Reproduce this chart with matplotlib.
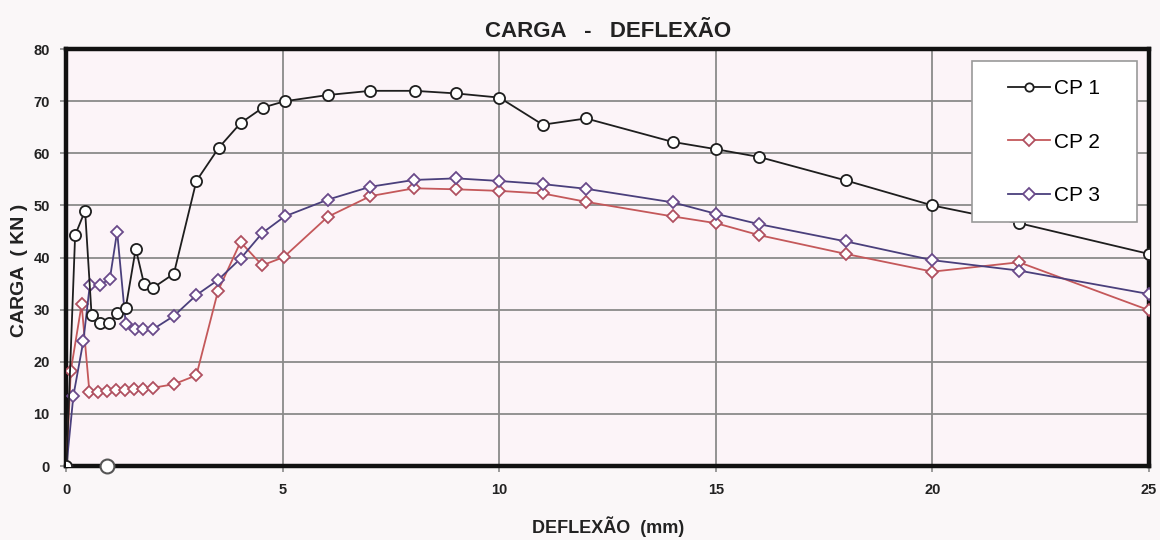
import matplotlib
matplotlib.use("Agg")
import matplotlib.pyplot as plt
from matplotlib.patches import Rectangle

plt.rcParams['font.family'] = ['Liberation Sans', 'DejaVu Sans']

# CP 1
x1 = [0, 0.2, 0.43, 0.58, 0.77, 0.99, 1.17, 1.37, 1.6, 1.79, 2.0, 2.48, 3.0, 3.52,
      4.02, 4.54, 5.04, 6.04, 7.02, 8.04, 9.0, 10.0, 11.0, 12.0, 14.0, 15.0, 16.0,
      18.0, 20.0, 22.0, 25.0]
y1 = [0, 44.3, 49.0, 29.0, 27.5, 27.5, 29.3, 30.4, 41.7, 35.0, 34.2, 36.9, 54.7, 61.1,
      65.8, 68.8, 70.0, 71.2, 72.0, 72.0, 71.5, 70.7, 65.5, 66.7, 62.2, 60.8, 59.3,
      54.8, 50.0, 46.6, 40.7]

# CP 2
x2 = [0, 0.1, 0.35, 0.53, 0.73, 0.93, 1.14, 1.35, 1.56, 1.77, 1.99, 2.48, 3.0, 3.5,
      4.02, 4.52, 5.02, 6.03, 7.02, 8.03, 9.0, 10.0, 11.0, 12.0, 14.0, 15.0, 16.0,
      18.0, 20.0, 22.0, 25.0]
y2 = [0, 18.3, 31.0, 14.2, 14.3, 14.4, 14.5, 14.6, 14.7, 14.8, 15.0, 15.7, 17.4, 33.6,
      43.0, 38.5, 40.1, 47.8, 51.8, 53.3, 53.1, 52.8, 52.3, 50.7, 47.9, 46.6, 44.3,
      40.7, 37.3, 39.1, 29.9]

# CP 3
x3 = [0, 0.16, 0.39, 0.54, 0.77, 1.0, 1.17, 1.37, 1.58, 1.77, 1.99, 2.48, 3.0, 3.5,
      4.02, 4.52, 5.04, 6.03, 7.02, 8.03, 9.0, 10.0, 11.0, 12.0, 14.0, 15.0, 16.0,
      18.0, 20.0, 22.0, 25.0]
y3 = [0, 13.5, 24.0, 34.8, 34.8, 35.8, 45.0, 27.2, 26.2, 26.2, 26.2, 28.8, 32.8, 35.7,
      39.8, 44.7, 47.9, 51.1, 53.6, 54.9, 55.2, 54.7, 54.1, 53.2, 50.6, 48.4, 46.4,
      43.1, 39.5, 37.5, 33.0]

# stray point on the x axis
xs = [0.94]
ys = [0]

fig = plt.figure(figsize=(11.6, 5.4), dpi=100, facecolor='#faf7f8')
ax = fig.add_axes([0.0573, 0.137, 0.9332, 0.772], facecolor='#fcf4f8')

ax.plot(x1, y1, color='#1e1e1e', lw=1.3, marker='o', ms=8, mfc='white',
        mec='#1e1e1e', mew=1.3, label='CP 1', zorder=5)
ax.plot(x2, y2, color='#c4585a', lw=1.3, marker='D', ms=6, mfc='white',
        mec='#b05060', mew=1.3, label='CP 2', zorder=3)
ax.plot(x3, y3, color='#4a3f7c', lw=1.3, marker='D', ms=6, mfc='white',
        mec='#6a4a8a', mew=1.3, label='CP 3', zorder=4)
ax.plot(xs, ys, ls='none', marker='o', ms=10, mfc='white', mec='#555555',
        mew=1.5, zorder=6, clip_on=False)

ax.set_xlim(0, 25)
ax.set_ylim(0, 80)
ax.set_xticks([0, 5, 10, 15, 20, 25])
ax.set_yticks(range(0, 81, 10))
ax.grid(True, color='#8a8a8a', lw=1.3)
ax.set_axisbelow(True)
for s in ax.spines.values():
    s.set_linewidth(3.2)
    s.set_color('#111111')
ax.tick_params(axis='both', length=4, color='#8a8a8a', width=1.2,
               labelsize=10.5, pad=8)
for lab in ax.get_xticklabels() + ax.get_yticklabels():
    lab.set_fontweight('bold')
    lab.set_color('#222222')

ax.set_title('CARGA   -   DEFLEXÃO', fontsize=16, fontweight='bold', pad=9,
             color='#222222')
ax.set_xlabel('DEFLEXÃO  (mm)', fontsize=13, fontweight='bold', labelpad=14,
              color='#222222')
ax.set_ylabel('CARGA  ( KN )', fontsize=14, fontweight='bold', color='#222222')
ax.yaxis.set_label_coords(-0.0356, 0.47)

# legend box
ax.add_patch(Rectangle((0.8365, 0.586), 0.1521, 0.386, transform=ax.transAxes,
                       facecolor='white', edgecolor='#999999', lw=1.2, zorder=7))
leg = ax.legend(loc='center left', bbox_to_anchor=(0.8697, 0.777), borderaxespad=0,
                borderpad=0, fontsize=15, labelspacing=1.65, handlelength=2.0,
                handletextpad=0.2, frameon=False)
leg.set_zorder(8)
for h in leg.legend_handles:
    h.set_markersize(6)

fig.savefig('out.png', dpi=100, facecolor=fig.get_facecolor())
